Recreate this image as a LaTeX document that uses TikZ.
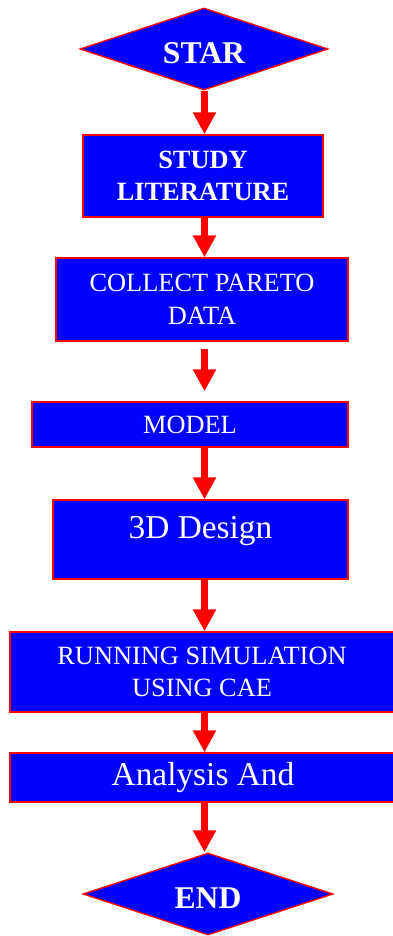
\documentclass[tikz,border=0pt]{standalone}
\usepackage{fontspec}
\setmainfont{Liberation Serif}
\usetikzlibrary{arrows.meta, shapes.geometric}
\definecolor{fblue}{RGB}{0,0,255}
\definecolor{fred}{RGB}{255,0,0}
\tikzset{
  every picture/.style={line width=0.8pt},
  box/.style={draw=fred, fill=fblue, text=white, align=center, inner sep=2pt, font=\fontsize{15}{18.5}\selectfont},
  term/.style={diamond, aspect=3, draw=fred, fill=fblue, text=white, inner sep=0pt, text height=16.5pt, text depth=0pt, font=\fontsize{18}{21}\selectfont\bfseries},
  arrow/.style={-{Triangle[width=0.44cm, length=0.44cm]}, draw=fred, line width=0.14cm},
  big/.style={font=\fontsize{19}{22}\selectfont},
}

\begin{document}
\begin{tikzpicture}
  \useasboundingbox (0,0) rectangle (7.86,-18.72);
  \coordinate (axis) at (4.09,0);
  % start and end
  \node[term, minimum width=4.96cm, minimum height=1.64cm] (star) at (4.08,-0.98) {STAR};
  \node[term, minimum width=5.0cm, minimum height=1.64cm] (stop) at (4.16,-17.88) {END};
  % process steps
  \node[box, font=\fontsize{15}{18.5}\selectfont\bfseries, minimum width=4.8cm, minimum height=1.64cm] (study) at (4.06,-3.52) {STUDY\\LITERATURE};
  \node[box, minimum width=5.84cm, minimum height=1.66cm] (collect) at (4.04,-5.99) {COLLECT PARETO\\DATA};
  \node[box, minimum width=6.32cm, minimum height=0.9cm] (model) at (3.80,-8.49) {MODEL};
  \node[box, big, text height=13pt, text depth=14pt, minimum width=5.9cm, minimum height=1.58cm] (design) at (4.01,-10.79) {3D Design};
  \node[box, minimum width=7.68cm, minimum height=1.6cm] (running) at (4.04,-13.44) {RUNNING SIMULATION\\USING CAE};
  \node[box, big, minimum width=7.72cm, minimum height=0.98cm] (analysis) at (4.06,-15.55) {Analysis And};
  % connectors
  \foreach \a/\b in {star/study, study/collect, model/design, design/running, running/analysis, analysis/stop}
    \draw[arrow] (\a.south -| axis) -- (\b.north -| axis);
  \draw[arrow, shorten <=0.14cm, shorten >=0.2cm] (collect.south -| axis) -- (model.north -| axis);
\end{tikzpicture}
\end{document}
